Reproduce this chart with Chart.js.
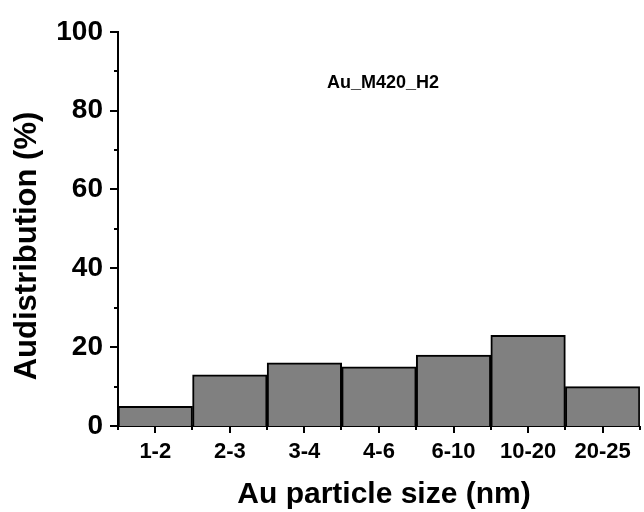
<!DOCTYPE html>
<html>
<head>
<meta charset="utf-8">
<script src="https://cdn.jsdelivr.net/npm/chart.js@4"></script>
<style>
  html, body { margin: 0; padding: 0; background: #fff; }
  #wrap { width: 644px; height: 512px; }
</style>
</head>
<body>
<div id="wrap"><canvas id="hist"></canvas></div>
<script>
const sizeBins = ["1-2", "2-3", "3-4", "4-6", "6-10", "10-20", "20-25"];
const distribution = [5, 13, 16, 15, 18, 23, 10];
const yMajorStep = 20;
const yMinorStep = 10;

const FONT = "'Liberation Sans', Arial, Helvetica, sans-serif";

// tick marks (long at labelled values, short in between), axis titles and sample name
const decorations = {
  id: "decorations",
  afterDraw(chart) {
    const ctx = chart.ctx;
    const x = chart.scales.x;
    const y = chart.scales.y;
    const area = chart.chartArea;
    ctx.save();
    ctx.strokeStyle = "#000";
    ctx.lineWidth = 2;
    ctx.beginPath();
    for (let v = y.min; v <= y.max; v += yMinorStep) {
      const py = Math.round(y.getPixelForValue(v));
      const len = v % yMajorStep === 0 ? 8 : 4;
      ctx.moveTo(area.left - len, py);
      ctx.lineTo(area.left, py);
    }
    const half = (x.getPixelForValue(1) - x.getPixelForValue(0)) / 2;
    sizeBins.forEach((_, i) => {
      const cx = Math.round(x.getPixelForValue(i));
      ctx.moveTo(cx, area.bottom);
      ctx.lineTo(cx, area.bottom + 7);
      const bx = Math.round(cx + half);
      ctx.moveTo(bx, area.bottom);
      ctx.lineTo(bx, area.bottom + 4);
      if (i === 0) {
        const lx = Math.round(cx - half);
        ctx.moveTo(lx, area.bottom);
        ctx.lineTo(lx, area.bottom + 4);
      }
    });
    ctx.stroke();

    ctx.fillStyle = "#000";
    ctx.textAlign = "center";
    ctx.textBaseline = "middle";

    ctx.font = "bold 18px " + FONT;
    ctx.fillText("Au_M420_H2", 383, 83);

    ctx.font = "bold 30px " + FONT;
    ctx.fillText("Au particle size (nm)", 384, 495);

    ctx.translate(27, 246);
    ctx.rotate(-Math.PI / 2);
    ctx.font = "bold 31px " + FONT;
    ctx.fillText("Audistribution (%)", 0, 0);
    ctx.restore();
  }
};

new Chart(document.getElementById("hist"), {
  type: "bar",
  data: {
    labels: sizeBins,
    datasets: [
      {
        data: distribution,
        backgroundColor: "#808080",
        borderColor: "#000",
        borderWidth: 2,
        borderSkipped: "bottom",
        categoryPercentage: 1.0,
        barPercentage: 1.0,
      },
    ],
  },
  options: {
    responsive: true,
    maintainAspectRatio: false,
    animation: false,
    layout: {
      padding: { left: 0, right: 3, top: 28, bottom: 0 },
    },
    plugins: {
      legend: { display: false },
      tooltip: { enabled: false },
    },
    scales: {
      x: {
        grid: { display: false, drawTicks: false },
        border: { display: true, color: "#000", width: 2 },
        ticks: {
          color: "#000",
          padding: 13,
          maxRotation: 0,
          font: { family: FONT, size: 22, weight: "bold" },
        },
        afterFit(scale) {
          scale.height = 86;
        },
      },
      y: {
        min: 0,
        max: 100,
        grid: { display: false, drawTicks: false },
        border: { display: true, color: "#000", width: 2 },
        ticks: {
          stepSize: yMinorStep,
          color: "#000",
          padding: 15,
          font: { family: FONT, size: 28, weight: "bold" },
          callback: (v) => (v % yMajorStep === 0 ? v : ""),
        },
        afterFit(scale) {
          scale.width = 118;
        },
      },
    },
  },
  plugins: [decorations],
});
</script>
</body>
</html>
